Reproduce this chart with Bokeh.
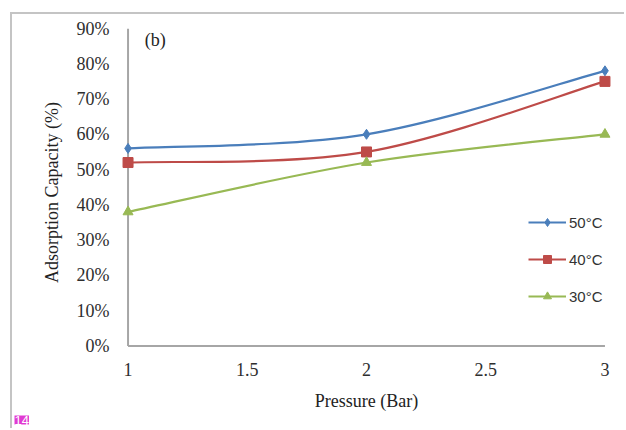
from bokeh.plotting import figure
from bokeh.models import (FixedTicker, NumeralTickFormatter, Legend, LegendItem,
                          Label, Range1d, ColumnDataSource, Title)
from bokeh.embed import file_html
from bokeh.resources import INLINE

pressure = [1, 2, 3]
cap_50 = [0.56, 0.60, 0.78]
cap_40 = [0.52, 0.55, 0.75]
cap_30 = [0.38, 0.52, 0.60]
series_names = ["50°C", "40°C", "30°C"]
x_ticks = [1, 1.5, 2, 2.5, 3]
y_ticks = [0.0, 0.1, 0.2, 0.3, 0.4, 0.5, 0.6, 0.7, 0.8, 0.9]

colors = ["#4a7ebb", "#be4b48", "#98b954"]
SERIF = "Liberation Serif"
SANS = "Liberation Sans"

p = figure(width=614, height=416, output_backend="svg", toolbar_location=None,
           x_range=Range1d(0.96, 3.04), y_range=Range1d(-0.03, 0.9),
           min_border_left=106, min_border_right=12, min_border_top=14, min_border_bottom=74,
           background_fill_color="white", border_fill_color="white")
p.styles = {"margin-left": "10px", "margin-top": "12px",
            "border-left": "2px solid #c4c4c4", "border-top": "2px solid #c4c4c4"}
p.outline_line_color = None
p.grid.visible = False

for ax in (p.xaxis[0], p.yaxis[0]):
    ax.axis_line_color = None
    ax.major_tick_line_color = None
    ax.minor_tick_line_color = None
    ax.major_label_text_font = SERIF
    ax.major_label_text_font_size = "18px"
    ax.major_label_text_color = "#2e2e2e"
    ax.axis_label_text_font = SERIF
    ax.axis_label_text_font_size = "18px"
    ax.axis_label_text_font_style = "normal"
    ax.axis_label_text_color = "#222222"

p.xaxis.ticker = FixedTicker(ticks=x_ticks)
p.xaxis.major_label_overrides = {t: (str(int(t)) if float(t).is_integer() else str(t)) for t in x_ticks}
p.xaxis.major_label_standoff = 0
p.xaxis.axis_label = "Pressure (Bar)"
p.xaxis.axis_label_standoff = 12

p.yaxis.ticker = FixedTicker(ticks=y_ticks)
p.yaxis.formatter = NumeralTickFormatter(format="0%")
p.yaxis.major_label_standoff = 3
p.yaxis.axis_label = "Adsorption Capacity (%)"
p.yaxis.axis_label_standoff = 12

# axis lines from tick extents
p.segment(x0=[x_ticks[0]], y0=[y_ticks[0]], x1=[x_ticks[-1]], y1=[y_ticks[0]],
          line_color="#a6a6a6", line_width=2)
p.segment(x0=[x_ticks[0]], y0=[y_ticks[0]], x1=[x_ticks[0]], y1=[y_ticks[-1]],
          line_color="#a6a6a6", line_width=2)


def smooth_controls(xs, ys):
    n = len(xs)
    x0, y0, x1, y1, cx0, cy0, cx1, cy1 = [], [], [], [], [], [], [], []
    for i in range(n - 1):
        xm = xs[i - 1] if i > 0 else xs[i]
        ym = ys[i - 1] if i > 0 else ys[i]
        xp = xs[i + 2] if i + 2 < n else xs[i + 1]
        yp = ys[i + 2] if i + 2 < n else ys[i + 1]
        x0.append(xs[i]); y0.append(ys[i])
        x1.append(xs[i + 1]); y1.append(ys[i + 1])
        cx0.append(xs[i] + (xs[i + 1] - xm) / 6); cy0.append(ys[i] + (ys[i + 1] - ym) / 6)
        cx1.append(xs[i + 1] - (xp - xs[i]) / 6); cy1.append(ys[i + 1] - (yp - ys[i]) / 6)
    return dict(x0=x0, y0=y0, x1=x1, y1=y1, cx0=cx0, cy0=cy0, cx1=cx1, cy1=cy1)


markers = ["diamond", "square", "triangle"]
sizes = [10, 10, 10]
items = []
for name, ys, col, mk, sz in zip(series_names, [cap_50, cap_40, cap_30], colors, markers, sizes):
    src = ColumnDataSource(smooth_controls(pressure, ys))
    r_line = p.bezier(x0="x0", y0="y0", x1="x1", y1="y1", cx0="cx0", cy0="cy0",
                      cx1="cx1", cy1="cy1", source=src, line_color=col, line_width=2.2)
    r_mk = p.scatter(pressure, ys, marker=mk, size=sz, fill_color=col, line_color=col)
    items.append(LegendItem(label=name, renderers=[r_line, r_mk]))

legend = Legend(items=items, location=(410, 50), orientation="vertical",
                border_line_color=None, background_fill_alpha=0,
                label_text_font=SANS, label_text_font_size="15px", label_text_color="#333333",
                glyph_width=38, glyph_height=20, spacing=17, label_standoff=3,
                padding=0, margin=0)
p.add_layout(legend)

p.add_layout(Label(x=1.07, y=0.866, text="(b)", text_font=SERIF, text_font_size="18px",
                   text_baseline="middle", text_color="#222222"))

page_tag = Title(text="14", align="left", offset=-104, standoff=0,
                 text_font=SANS, text_font_size="13px", text_font_style="normal",
                 text_color="white", background_fill_color="#e03ad2")
p.add_layout(page_tag, "below")

open("out.html", "w").write(file_html(p, INLINE))
